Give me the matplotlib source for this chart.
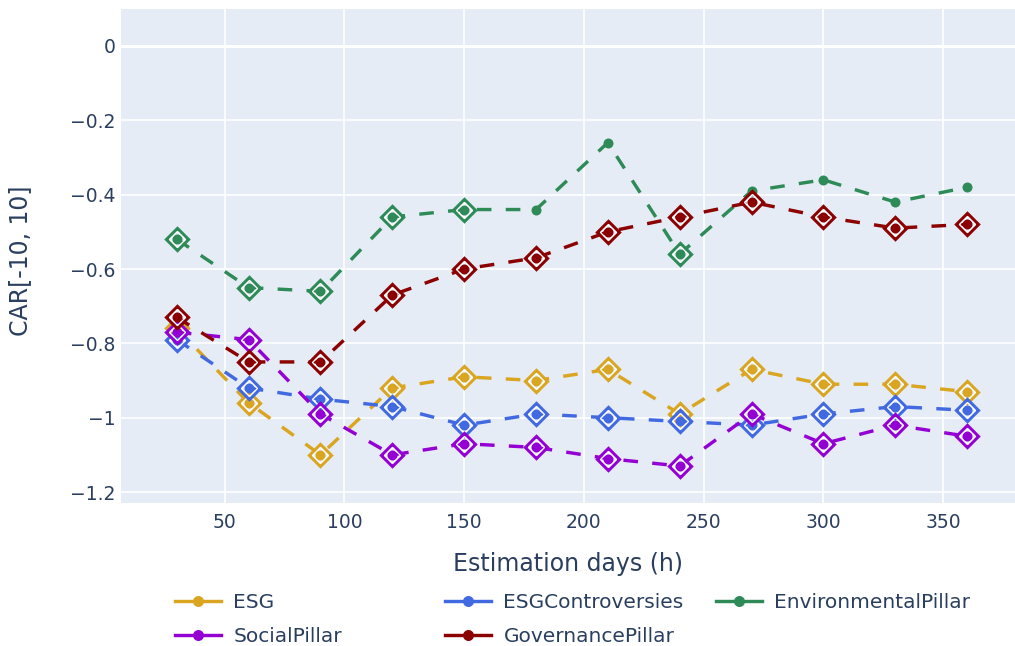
import matplotlib
matplotlib.use("Agg")
import matplotlib.pyplot as plt
from matplotlib.lines import Line2D

# estimation window lengths
days = [30, 60, 90, 120, 150, 180, 210, 240, 270, 300, 330, 360]

esg = [-0.76, -0.96, -1.10, -0.92, -0.89, -0.90, -0.87, -0.99, -0.87, -0.91, -0.91, -0.93]
esg_contro = [-0.79, -0.92, -0.95, -0.97, -1.02, -0.99, -1.00, -1.01, -1.02, -0.99, -0.97, -0.98]
environmental = [-0.52, -0.65, -0.66, -0.46, -0.44, -0.44, -0.26, -0.56, -0.39, -0.36, -0.42, -0.38]
social = [-0.77, -0.79, -0.99, -1.10, -1.07, -1.08, -1.11, -1.13, -0.99, -1.07, -1.02, -1.05]
governance = [-0.73, -0.85, -0.85, -0.67, -0.60, -0.57, -0.50, -0.46, -0.42, -0.46, -0.49, -0.48]

# which points carry the diamond (significant) marker
esg_sig = [True] * 12
esg_contro_sig = [True] * 12
environmental_sig = [True, True, True, True, True, False, False, True, False, False, False, False]
social_sig = [True] * 12
governance_sig = [True] * 12

names = ["ESG", "ESGControversies", "EnvironmentalPillar", "SocialPillar", "GovernancePillar"]
colors = ["#DAA520", "#4169E1", "#2E8B57", "#9400D3", "#8B0000"]

y_ticks = [0, -0.2, -0.4, -0.6, -0.8, -1, -1.2]
y_tick_labels = ["0", "\u22120.2", "\u22120.4", "\u22120.6", "\u22120.8", "\u22121", "\u22121.2"]
x_ticks = [50, 100, 150, 200, 250, 300, 350]

TEXT = "#2a3f5f"
BG = "#E5ECF6"
px = 72 / 100  # one pixel in points

plt.rcParams['font.family'] = ['DejaVu Sans']

fig = plt.figure(figsize=(10.15, 6.46), dpi=100)
ax = fig.add_axes([121 / 1015, 1 - 503 / 646, 1 - 121 / 1015, (503 - 9) / 646])
ax.set_facecolor(BG)
for s in ax.spines.values():
    s.set_visible(False)

ax.set_xlim(6.7, 380)
ax.set_ylim(-1.2295, 0.0995)
ax.set_xticks(x_ticks)
ax.set_yticks(y_ticks)
ax.set_yticklabels(y_tick_labels)
ax.tick_params(length=0, labelsize=13.5, labelcolor=TEXT)
ax.tick_params(axis='y', pad=4)
ax.tick_params(axis='x', pad=7)
ax.grid(True, color="white", lw=1.6 * px)
ax.set_axisbelow(True)
ax.axhline(0, color="white", lw=3 * px, zorder=1)

series = [(esg, esg_sig), (esg_contro, esg_contro_sig), (environmental, environmental_sig),
          (social, social_sig), (governance, governance_sig)]

lw = 3.4 * px
dash = (0, (4.3, 4.2))
handles = []
for i, ((vals, sig), c, name) in enumerate(zip(series, colors, names)):
    z = 3 + i
    ax.plot(days, vals, color=c, lw=lw, ls=dash, marker="o", ms=10 * px,
            mew=0, zorder=z)
    # open diamonds with a thin white inner ring for significant points
    xd = [d for d, s in zip(days, sig) if s]
    yd = [v for v, s in zip(vals, sig) if s]
    ax.plot(xd, yd, ls="none", marker="D", ms=15.5 * px, mfc="none", mec=c,
            mew=3.2 * px, zorder=z + 0.1)
    ax.plot(xd, yd, ls="none", marker="D", ms=11 * px, mfc="none", mec="white",
            mew=1.3 * px, zorder=z + 0.2)
    handles.append(Line2D([], [], color=c, lw=lw, ls="-", marker="o",
                          ms=11 * px, mew=0))

ax.set_xlabel("Estimation days (h)", fontsize=17, color=TEXT, labelpad=14.5)
ax.set_ylabel("CAR[-10, 10]", fontsize=17, color=TEXT)
ax.yaxis.set_label_coords(-0.099, 0.49)

# horizontal legend laid out in three columns like the original
cols = [[0, 3], [1, 4], [2]]
col_x = [175, 445, 716]
for idx, x0 in zip(cols, col_x):
    fig.legend([handles[k] for k in idx], [names[k] for k in idx],
               loc="upper left", bbox_to_anchor=(x0 / 1015, 1 - 593 / 646),
               frameon=False, fontsize=14.5, labelcolor=TEXT, borderpad=0,
               borderaxespad=0, handlelength=2.3, handletextpad=0.6,
               labelspacing=0.75, numpoints=1)

fig.savefig("out.png", dpi=100, facecolor="white")
